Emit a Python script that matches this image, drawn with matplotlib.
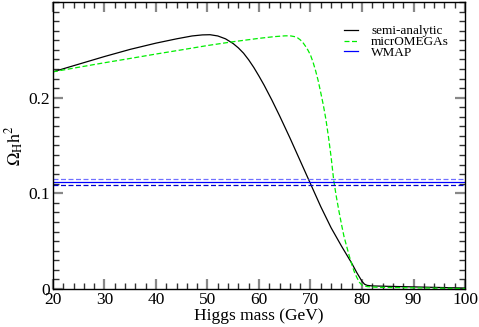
import matplotlib
matplotlib.use("Agg")
import matplotlib.pyplot as plt
from matplotlib.ticker import MultipleLocator

plt.rcParams['font.family'] = ['Liberation Serif', 'DejaVu Serif']
plt.rcParams['mathtext.fontset'] = 'stix'

# semi-analytic (black solid)
semi_x = [20, 25, 30, 35, 40, 44, 47, 49, 50.5, 52, 53.5, 55, 56, 57, 58, 59, 60, 61,
          62.5, 64, 66, 68, 70, 72, 74, 76, 78, 79, 80, 80.5, 81, 82, 85, 90, 95, 100]
semi_y = [0.227, 0.235, 0.243, 0.2505, 0.257, 0.2615, 0.2645, 0.2656, 0.2658, 0.2645,
          0.2615, 0.2565, 0.252, 0.2465, 0.2395, 0.2315, 0.2225, 0.213, 0.1975, 0.181,
          0.158, 0.134, 0.110, 0.086, 0.064, 0.045, 0.027, 0.017, 0.008, 0.005,
          0.0038, 0.0032, 0.0028, 0.0022, 0.0016, 0.001]

# micrOMEGAs (green dashed)
micro_x = [20, 25, 30, 35, 40, 45, 50, 55, 60, 63, 65, 66, 67, 67.5, 68, 68.5, 69,
           69.5, 70, 70.5, 71, 71.5, 72, 72.5, 73, 73.5, 74, 74.5, 75, 75.5, 76,
           76.5, 77, 77.5, 78, 78.5, 79, 79.5, 80, 81, 83, 90, 100]
micro_y = [0.227, 0.2318, 0.2365, 0.241, 0.2456, 0.250, 0.2545, 0.2585, 0.262,
           0.2638, 0.2646, 0.2647, 0.2637, 0.2625, 0.2605, 0.2578, 0.254, 0.2497,
           0.2445, 0.237, 0.228, 0.2175, 0.205, 0.192, 0.177, 0.1586, 0.138, 0.114,
           0.097, 0.082, 0.068, 0.055, 0.045, 0.035, 0.026, 0.018, 0.012, 0.007,
           0.004, 0.0025, 0.0018, 0.0012, 0.0005]

# WMAP band
wmap_center = 0.112
wmap_low = 0.109
wmap_high = 0.115

xticks = [20, 30, 40, 50, 60, 70, 80, 90, 100]
yticks = [0, 0.1, 0.2]
ytick_labels = ['0', '0.1', '0.2']

fig = plt.figure(figsize=(4.79, 3.27), dpi=100)
ax = fig.add_axes([0.1106, 0.1162, 0.8602, 0.8777])

ax.plot(semi_x, semi_y, color='black', lw=0.9, label='semi-analytic')
ax.plot(micro_x, micro_y, color='#00ee00', lw=0.9, ls=(0, (4, 2)), label='micrOMEGAs')
ax.axhline(wmap_center, color='#0000ff', lw=0.9, label='WMAP')
ax.axhline(wmap_low, color='#0000cc', lw=0.9, ls=(0, (4, 2)))
ax.axhline(wmap_high, color='#7070ff', lw=0.9, ls=(0, (4, 2)))

ax.set_xlim(20, 100)
ax.set_ylim(0, 0.3)
ax.set_xticks(xticks)
ax.set_yticks(yticks)
ax.set_yticklabels(ytick_labels)
ax.xaxis.set_minor_locator(MultipleLocator(2))
ax.yaxis.set_minor_locator(MultipleLocator(0.01))
ax.tick_params(which='both', direction='in', top=True, right=True, labelsize=12.5, pad=2)
ax.tick_params(which='major', length=7, width=1.6, color='#888888')
ax.tick_params(which='minor', length=4, width=1.0, color='#333333')
for s in ax.spines.values():
    s.set_linewidth(1.0)

ax.set_xlabel('Higgs mass (GeV)', fontsize=12.5, labelpad=0)
ax.set_ylabel(r'$\Omega_\mathrm{H}\mathrm{h}^2$', fontsize=13, labelpad=2)

leg = ax.legend(loc='upper left', frameon=False, fontsize=9.5, handlelength=1.05,
                labelspacing=-0.1, handletextpad=1.0, borderpad=0, borderaxespad=0,
                bbox_to_anchor=(344 / 479, 1 - 25 / 327), bbox_transform=fig.transFigure)

fig.savefig('out.png', dpi=100)
